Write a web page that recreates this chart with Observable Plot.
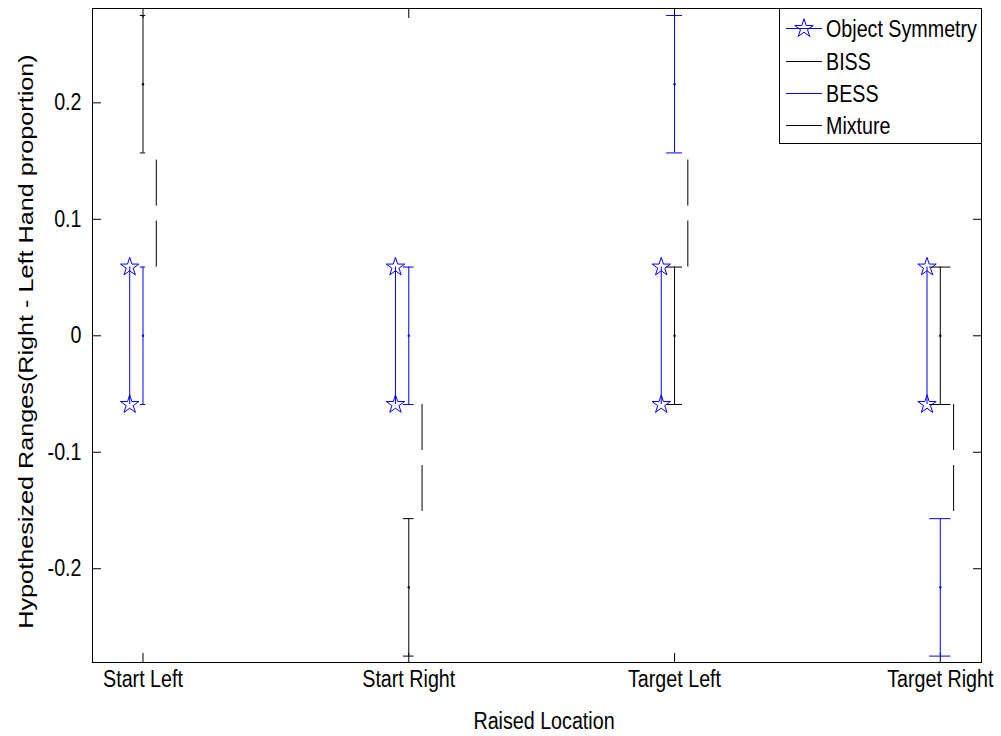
<!DOCTYPE html>
<html>
<head>
<meta charset="utf-8">
<script src="https://cdn.jsdelivr.net/npm/d3@7"></script>
<script src="https://cdn.jsdelivr.net/npm/@observablehq/plot@0.6"></script>
<style>
  html, body { margin: 0; padding: 0; background: #fff; }
  #chart { position: relative; width: 1001px; height: 736px; }
  #legend { position: absolute; left: 779px; top: 8px; }
</style>
</head>
<body>
<div id="chart"></div>
<script>
// Raised locations along the x axis
const locations = ["Start Left", "Start Right", "Target Left", "Target Right"];

// Object Symmetry: hypothesized range (star at each end)
const symLow  = [-0.059, -0.059, -0.059, -0.059];
const symHigh = [ 0.059,  0.059,  0.059,  0.059];

// BISS: centre and half-range
const bissMid = [0.216, -0.216, 0, 0];
const bissErr = [0.059, 0.059, 0.059, 0.059];

// BESS: centre and half-range
const bessMid = [0, 0, 0.216, -0.216];
const bessErr = [0.059, 0.059, 0.059, 0.059];

// Mixture: range drawn from the inner end outward
const mixFrom = [0.059, -0.059, 0.059, -0.059];
const mixTo   = [0.157, -0.157, 0.157, -0.157];

const yTicks = [-0.2, -0.1, 0, 0.1, 0.2];

const legendLabels = ["Object Symmetry", "BISS", "BESS", "Mixture"];

const xLabel = "Raised Location";
const yLabel = "Hypothesized Ranges(Right - Left Hand proportion)";

// ---- layout / style ----
const W = 1001, H = 736;
const FONT = 19.7;          // px
const STRETCH = 1.18;       // tall, narrow lettering
const Y_FONT = 20.5;        // y-axis title
const Y_STRETCH = 1.23;
const FONT_FAMILY = "'Liberation Sans', Arial, Helvetica, sans-serif";
const BLUE = "#0000ff";
const BLACK = "#000000";
const STAR_R = 5.8;
const capHalf = x => 0.01 * x;   // error-bar tee half-width grows with x

const rows = locations.map((name, i) => ({
  name, x: i + 1,
  symLow: symLow[i], symHigh: symHigh[i],
  bissLo: bissMid[i] - bissErr[i], bissHi: bissMid[i] + bissErr[i], bissMid: bissMid[i],
  bessLo: bessMid[i] - bessErr[i], bessHi: bessMid[i] + bessErr[i], bessMid: bessMid[i],
  mixFrom: mixFrom[i], mixTo: mixTo[i]
}));

const symX = d => d.x - 0.05;
const mixX = d => d.x + 0.05;

const stars = rows.flatMap(d => [{x: symX(d), y: d.symLow}, {x: symX(d), y: d.symHigh}]);
const caps = (lo, hi) => rows.flatMap(d => [
  {x1: d.x - capHalf(d.x), x2: d.x + capHalf(d.x), y: d[lo]},
  {x1: d.x - capHalf(d.x), x2: d.x + capHalf(d.x), y: d[hi]}
]);

const positions = rows.map(d => d.x);

const plot = Plot.plot({
  width: W,
  height: H,
  marginLeft: 92,
  marginRight: 20,
  marginTop: 8,
  marginBottom: 74,
  style: {fontFamily: FONT_FAMILY, fontSize: FONT + "px", background: "#fff", color: BLACK},
  x: {type: "linear", domain: [0.81, 4.155]},
  y: {domain: [-0.2805, 0.281]},
  marks: [
    // axes: ticks point inward on all four sides
    Plot.axisY(yTicks, {anchor: "left", tickSize: -9, tickPadding: 20, tickFormat: d => String(d), label: null}),
    Plot.axisY(yTicks, {anchor: "right", tickSize: -9, tickFormat: () => "", label: null}),
    Plot.axisX(positions, {anchor: "bottom", tickSize: -9, tickPadding: 17, tickFormat: d => locations[d - 1], label: null}),
    Plot.axisX(positions, {anchor: "top", tickSize: -9, tickFormat: () => "", label: null}),

    // Object Symmetry
    Plot.ruleX(rows, {x: symX, y1: "symLow", y2: "symHigh", stroke: BLUE, strokeWidth: 1}),
    Plot.dot(stars, {x: "x", y: "y", symbol: "star", r: STAR_R, stroke: BLUE, fill: "none", strokeWidth: 1}),

    // BISS
    Plot.ruleX(rows, {x: "x", y1: "bissLo", y2: "bissHi", stroke: BLACK, strokeWidth: 1}),
    Plot.ruleY(caps("bissLo", "bissHi"), {x1: "x1", x2: "x2", y: "y", stroke: BLACK, strokeWidth: 1}),
    Plot.dot(rows, {x: "x", y: "bissMid", r: 1.2, fill: BLACK, stroke: null}),

    // BESS
    Plot.ruleX(rows, {x: "x", y1: "bessLo", y2: "bessHi", stroke: BLUE, strokeWidth: 1}),
    Plot.ruleY(caps("bessLo", "bessHi"), {x1: "x1", x2: "x2", y: "y", stroke: BLUE, strokeWidth: 1}),
    Plot.dot(rows, {x: "x", y: "bessMid", r: 1.2, fill: BLUE, stroke: null}),

    // Mixture (dashed)
    Plot.ruleX(rows, {x: mixX, y1: "mixFrom", y2: "mixTo", stroke: BLACK, strokeWidth: 1, strokeDasharray: "46,15"}),

    Plot.frame({stroke: BLACK, strokeWidth: 1}),

    // axis titles
    Plot.text([xLabel], {text: d => d, frameAnchor: "bottom", textAnchor: "middle", lineAnchor: "bottom", dy: 66, dx: 7, fontSize: FONT}),
    Plot.text([yLabel], {text: d => d, frameAnchor: "left", textAnchor: "middle", lineAnchor: "middle", rotate: -90, dx: -66, dy: 6, fontSize: Y_FONT})
  ]
});

// give all lettering its tall, narrow proportions
d3.select(plot).selectAll("text").each(function () {
  const t = this.getAttribute("transform") || "";
  if (t.includes("rotate")) this.setAttribute("transform", t + ` scale(${Y_STRETCH},1)`);
  else this.setAttribute("transform", t + ` scale(1,${STRETCH})`);
});

const chart = document.getElementById("chart");
chart.appendChild(plot);

// ---- legend box (upper right, inside the axes) ----
const LW = 202, LH = 135;
const legend = d3.select(chart).append("svg")
  .attr("id", "legend")
  .attr("width", LW + 1)
  .attr("height", LH + 1)
  .style("font-family", FONT_FAMILY)
  .style("font-size", FONT + "px");

legend.append("rect")
  .attr("x", 0.5).attr("y", 0.5)
  .attr("width", LW).attr("height", LH)
  .attr("fill", "#fff").attr("stroke", BLACK);

const legendColors = [BLUE, BLACK, BLUE, BLACK];
const rowY = [20.5, 53.5, 85.5, 117.5];
const starPath = d3.symbol(d3.symbolStar, Math.PI * STAR_R * STAR_R)();

legendLabels.forEach((label, i) => {
  const g = legend.append("g");
  g.append("line")
    .attr("x1", 7).attr("x2", 43)
    .attr("y1", rowY[i]).attr("y2", rowY[i])
    .attr("stroke", legendColors[i]).attr("stroke-width", 1);
  if (i === 0) {
    g.append("path")
      .attr("d", starPath)
      .attr("transform", `translate(25,${rowY[i]})`)
      .attr("fill", "none").attr("stroke", BLUE);
  }
  g.append("text")
    .attr("transform", `translate(47,${rowY[i]}) scale(1,${STRETCH})`)
    .attr("dy", "0.35em")
    .attr("fill", BLACK)
    .text(label);
});
</script>
</body>
</html>
